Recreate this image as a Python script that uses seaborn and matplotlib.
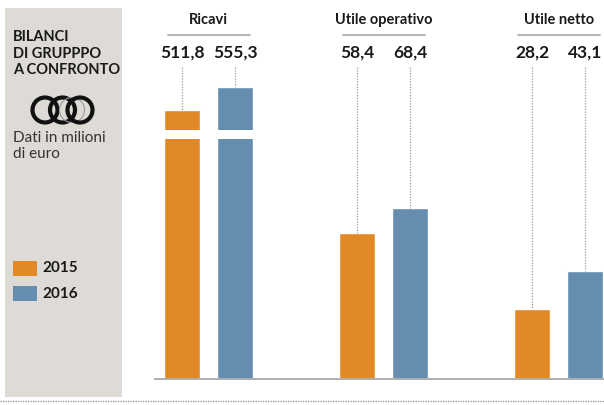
import matplotlib
matplotlib.use("Agg")
import matplotlib.pyplot as plt
from matplotlib.patches import Rectangle, Circle
import seaborn as sns
import pandas as pd

# ---- data ----
categories = ["Ricavi", "Utile operativo", "Utile netto"]
years = ["2015", "2016"]
values_2015 = [511.8, 58.4, 28.2]
values_2016 = [555.3, 68.4, 43.1]
value_labels_2015 = ["511,8", "58,4", "28,2"]
value_labels_2016 = ["555,3", "68,4", "43,1"]

ORANGE = "#E08926"
BLUE = "#658DAF"
PANEL = "#DEDBD6"
LINE = "#AFAFAF"

sns.set_theme(style="white")
plt.rcParams["font.family"] = ["Lato", "DejaVu Sans"]

# broken scale for the "Ricavi" group (bars are cut)
def shown(v, cat):
    if cat == "Ricavi":
        return 80 + (v - 380) * 0.21
    return v

rows = []
for c, a, b in zip(categories, values_2015, values_2016):
    rows.append({"cat": c, "year": "2015", "value": shown(a, c)})
    rows.append({"cat": c, "year": "2016", "value": shown(b, c)})
df = pd.DataFrame(rows)

W, H = 604, 405
fig = plt.figure(figsize=(W / 100, H / 100), dpi=100)

# background / pixel overlay axes
bg = fig.add_axes([0, 0, 1, 1], zorder=0)
bg.set_xlim(0, W)
bg.set_ylim(H, 0)
bg.axis("off")
bg.add_patch(Rectangle((5, 8), 117, 389, facecolor=PANEL, edgecolor="none"))
bg.plot([0, W], [401, 401], color="#8a8a8a", lw=0.9, ls=(0, (1, 1)))

bg.text(13, 30, "BILANCI\nDI GRUPPPO\nA CONFRONTO", fontsize=10.5, fontweight="bold",
        color="#1a1a1a", va="top", ha="left", linespacing=1.25)
# rings logo
for cx, col, lw in [(45, "#111111", 3.0), (62.5, "#111111", 3.0),
                    (72, "#9a9a9a", 0.8), (80, "#111111", 3.0)]:
    bg.add_patch(Circle((cx, 110), 12.5, fill=False, edgecolor=col, lw=lw))
bg.text(13, 131, "Dati in milioni\ndi euro", fontsize=11, color="#333333",
        va="top", ha="left", linespacing=1.15)

# legend
for y0, col, lab in [(261, ORANGE, years[0]), (286, BLUE, years[1])]:
    bg.add_patch(Rectangle((13, y0), 24, 14.5, facecolor=col, edgecolor="none"))
    bg.text(42, y0 + 7.5, lab, fontsize=11, fontweight="bold", color="#1a1a1a",
            va="center", ha="left")

# main axes
PX = 2.5  # pixels per unit
ax = fig.add_axes([154 / W, (H - 379) / H, 1 - 154 / W, 379 / H], zorder=1)
ax.patch.set_alpha(0)
sns.barplot(data=df, x="cat", y="value", hue="year", order=categories,
            hue_order=years, palette=[ORANGE, BLUE], width=0.606, gap=0.32,
            saturation=1, legend=False, ax=ax)
ax.set_xlim(-0.313, 2.258)
ax.set_ylim(0, 379 / PX)
for s in ax.spines.values():
    s.set_visible(False)
ax.set_xticks([])
ax.set_yticks([])
ax.set_xlabel("")
ax.set_ylabel("")
ax.plot([-0.313, 2.258], [0, 0], color=LINE, lw=1.4, clip_on=False,
        solid_capstyle="butt")

def py(p):  # pixel y -> data y
    return (379 - p) / PX

bars = sorted(ax.patches, key=lambda r: r.get_x())
labels = []
for a, b in zip(value_labels_2015, value_labels_2016):
    labels += [a, b]

for r, lab in zip(bars, labels):
    cx = r.get_x() + r.get_width() / 2
    top = r.get_height()
    ax.plot([cx, cx], [py(67), top], color="#9a9a9a", lw=0.9, ls=(0, (1, 1.2)),
            clip_on=False)
    ax.text(cx, py(53), lab, fontsize=12.5, fontweight="bold", color="#1a1a1a",
            ha="center", va="center")

# break band on the Ricavi bars
rl = bars[0].get_x() - 0.01
rr = bars[1].get_x() + bars[1].get_width() + 0.01
ax.add_patch(Rectangle((rl, py(139)), rr - rl, py(130) - py(139),
                       facecolor="white", edgecolor="none", zorder=5))

# group titles with underline
for i, c in enumerate(categories):
    ax.text(i, py(20), c, fontsize=10.5, fontweight="bold", color="#1a1a1a",
            ha="center", va="center")
    ax.plot([i - 0.235, i + 0.235], [py(35), py(35)], color=LINE, lw=1.3,
            clip_on=False)

fig.savefig("out.png", dpi=100)
